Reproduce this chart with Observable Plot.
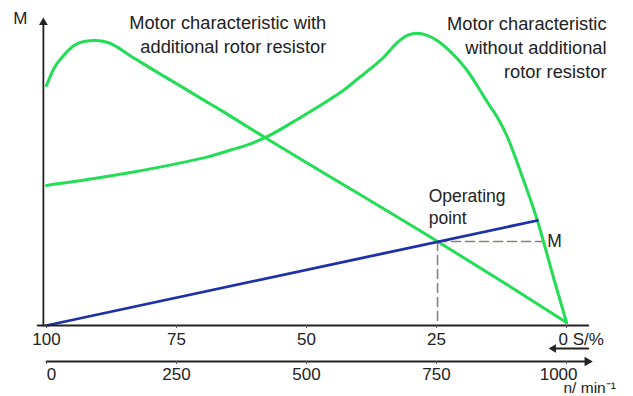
<!DOCTYPE html>
<html><head><meta charset="utf-8">
<script src="https://cdn.jsdelivr.net/npm/d3@7"></script>
<script src="https://cdn.jsdelivr.net/npm/@observablehq/plot@0.6"></script>
<style>body{margin:0;background:#fff} svg{display:block;background:#fff}</style>
</head><body><div id="chart"></div>
<script>
// speed n (1/min) and torque M (arbitrary units)
const withResistorN = [0, 14, 33, 53, 72, 94, 117, 136, 155, 181, 219, 258, 296, 335, 373, 421, 752, 873, 1000];
const withResistorM = [8.0, 8.56, 9.0, 9.33, 9.47, 9.5, 9.44, 9.28, 9.06, 8.78, 8.38, 7.98, 7.58, 7.18, 6.77, 6.26, 2.8, 1.5, 0.1];
const withoutResistorN = [0, 104, 162, 258, 310, 354, 388, 421, 488, 546, 572, 597, 623, 649, 674, 694, 713, 732, 751, 771, 790, 809, 828, 848, 867, 886, 912, 944, 975, 1000];
const withoutResistorM = [4.67, 4.93, 5.1, 5.42, 5.62, 5.85, 6.03, 6.27, 6.93, 7.55, 7.85, 8.2, 8.56, 8.95, 9.42, 9.67, 9.74, 9.67, 9.5, 9.22, 8.89, 8.5, 8.0, 7.44, 6.94, 6.3, 5.1, 3.5, 1.6, 0.1];
const loadN = [0, 944];
const loadM = [0, 3.5];
const operatingN = 752, operatingM = 2.8;
const speedTicks = [0, 250, 500, 750, 1000];
const slipLabels = ["100", "75", "50", "25", "0"];
const speedLabels = ["0", "250", "500", "750", "1000"];

const zip = (a, b) => a.map((n, i) => ({n, M: b[i]}));
const curve1 = zip(withResistorN, withResistorM);
const curve2 = zip(withoutResistorN, withoutResistorM);
const load = zip(loadN, loadM);

const axisColor = "#222";
const green = "#22dd55";
const font = "'Liberation Sans', Arial, Helvetica, sans-serif";
const mid = speedTicks.slice(1, 4);

const chart = Plot.plot({
  width: 633, height: 396,
  marginLeft: 46, marginRight: 67, marginTop: 25, marginBottom: 71,
  x: {type: "linear", domain: [0, 1000], axis: null},
  y: {type: "linear", domain: [0, 10], axis: null},
  style: {fontFamily: font, fontSize: "17px", color: "#222", background: "#fff"},
  marks: [
    // dashed operating point guides
    Plot.line([{n: operatingN, M: operatingM}, {n: 955, M: operatingM}], {x: "n", y: "M", stroke: "#8a8275", strokeWidth: 1.6, strokeDasharray: "9,5"}),
    Plot.line([{n: operatingN, M: operatingM}, {n: operatingN, M: 0}], {x: "n", y: "M", stroke: "#8a8275", strokeWidth: 1.6, strokeDasharray: "9,5"}),
    // curves
    Plot.line(curve2, {x: "n", y: "M", stroke: green, strokeWidth: 3, curve: "monotone-x"}),
    Plot.line(curve1, {x: "n", y: "M", stroke: green, strokeWidth: 3, curve: "monotone-x"}),
    Plot.line(load, {x: "n", y: "M", stroke: "#1e30a8", strokeWidth: 2.8}),
    // y axis with arrow
    Plot.line([{n: -6, M: 0}, {n: -6, M: 10.1}], {x: "n", y: "M", stroke: axisColor, strokeWidth: 1.8}),
    Plot.dot([{n: -6, M: 10.1}], {x: "n", y: "M", symbol: "triangle2", r: 4.2, fill: axisColor}),
    Plot.text([{n: -6, M: 10.23, t: "M"}], {x: "n", y: "M", dx: -23, text: "t", fontSize: 17, fill: "#222"}),
    // slip axis (top)
    Plot.line([{n: -17, M: 0}, {n: 1042, M: 0}], {x: "n", y: "M", stroke: axisColor, strokeWidth: 1.8}),
    Plot.ruleX(speedTicks, {x: d => d, y1: () => 0, y2: () => -0.1, stroke: "#555", strokeWidth: 1}),
    Plot.text(speedTicks.slice(0, 4), {x: d => d, y: () => 0, dy: 14, text: (d, i) => slipLabels[i], fontSize: 17, fill: "#222"}),
    Plot.text([{n: 1000, M: 0, t: slipLabels[4] + " S/%"}], {x: "n", y: "M", dx: -8, dy: 14, text: "t", textAnchor: "start", fontSize: 17, fill: "#222"}),
    // small left arrow (slip direction)
    Plot.line([{n: 975, M: 0}, {n: 1042, M: 0}], {x: "n", y: "M", dy: 23, stroke: axisColor, strokeWidth: 1.8}),
    Plot.dot([{n: 975, M: 0}], {x: "n", y: "M", dy: 23, symbol: "triangle2", r: 4, rotate: -90, fill: axisColor}),
    // speed axis (bottom)
    Plot.line([{n: 0, M: 0}, {n: 1040, M: 0}], {x: "n", y: "M", dy: 36, stroke: axisColor, strokeWidth: 1.8}),
    Plot.dot([{n: 1040, M: 0}], {x: "n", y: "M", dy: 36, symbol: "triangle2", r: 4.5, rotate: 90, fill: axisColor}),
    Plot.ruleX(speedTicks, {x: d => d, y1: () => 0, y2: () => -0.1, dy: 36, stroke: "#555", strokeWidth: 1}),
    Plot.text([speedTicks[0]], {x: d => d, y: () => 0, dx: 5, dy: 49, text: () => speedLabels[0], fontSize: 17, fill: "#222"}),
    Plot.text(mid, {x: d => d, y: () => 0, dy: 49, text: (d, i) => speedLabels[i + 1], fontSize: 17, fill: "#222"}),
    Plot.text([speedTicks[4]], {x: d => d, y: () => 0, dx: 11, dy: 49, text: () => speedLabels[4], textAnchor: "end", fontSize: 17, fill: "#222"}),
    Plot.text([{n: 1000, M: 0, t: "n/ min⁻¹"}], {x: "n", y: "M", dx: -3, dy: 63, text: "t", textAnchor: "start", fontSize: 15.5, fill: "#222"}),
    // annotations
    Plot.text([{n: 538, M: 9.75, t: "Motor characteristic with\nadditional rotor resistor"}], {x: "n", y: "M", text: "t", textAnchor: "end", lineHeight: 1.35, fontSize: 18.3, fill: "#222"}),
    Plot.text([{n: 1077, M: 9.3, t: "Motor characteristic\nwithout additional\nrotor resistor"}], {x: "n", y: "M", text: "t", textAnchor: "end", lineHeight: 1.29, fontSize: 18.3, fill: "#222"}),
    Plot.text([{n: 735, M: 3.97, t: "Operating\npoint"}], {x: "n", y: "M", text: "t", textAnchor: "start", lineHeight: 1.25, fontSize: 17.5, fill: "#222"}),
    Plot.text([{n: 963, M: operatingM, t: "M"}], {x: "n", y: "M", text: "t", textAnchor: "start", fontSize: 17.5, fill: "#222"})
  ]
});
document.getElementById("chart").appendChild(chart);
</script>
</body></html>
